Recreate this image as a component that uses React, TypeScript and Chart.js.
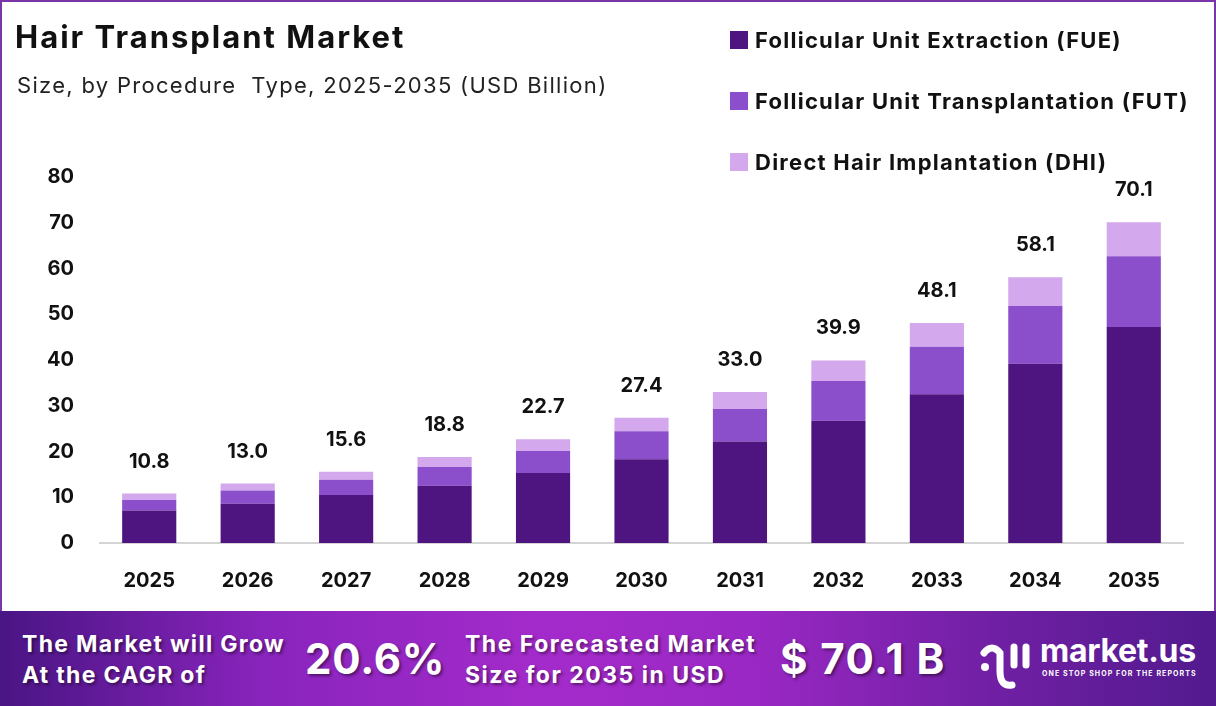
import React, { useEffect, useRef } from "react";
import { Chart, registerables } from "chart.js";

Chart.register(...registerables);

const years = ["2025", "2026", "2027", "2028", "2029", "2030", "2031", "2032", "2033", "2034", "2035"];
const fue = [7.1, 8.6, 10.5, 12.5, 15.3, 18.3, 22.2, 26.7, 32.5, 39.2, 47.2];
const fut = [2.3, 2.9, 3.3, 4.1, 4.8, 6.1, 7.1, 8.7, 10.4, 12.6, 15.5];
const dhi = [1.4, 1.5, 1.8, 2.2, 2.6, 3.0, 3.7, 4.5, 5.2, 6.3, 7.4];
const totals = ["10.8", "13.0", "15.6", "18.8", "22.7", "27.4", "33.0", "39.9", "48.1", "58.1", "70.1"];
const seriesNames = ["Follicular Unit Extraction (FUE)", "Follicular Unit Transplantation (FUT)", "Direct Hair Implantation (DHI)"];
const seriesColors = ["#4E1580", "#8B4FCC", "#D3A8EC"];
const yTicks = [0, 10, 20, 30, 40, 50, 60, 70, 80];

const FONT = "Inter, 'DejaVu Sans', sans-serif";

const totalsPlugin = {
  id: "totals",
  afterDatasetsDraw(chart: any) {
    const ctx = chart.ctx;
    const meta = chart.getDatasetMeta(chart.data.datasets.length - 1);
    ctx.save();
    ctx.font = `700 20px ${FONT}`;
    ctx.fillStyle = "#111";
    ctx.textAlign = "center";
    ctx.textBaseline = "middle";
    meta.data.forEach((bar: any, i: number) => {
      ctx.fillText(totals[i], bar.x, bar.y - 32);
    });
    ctx.restore();
  },
};

function ChartCanvas() {
  const ref = useRef<HTMLCanvasElement | null>(null);
  useEffect(() => {
    if (!ref.current) return;
    const chart = new Chart(ref.current, {
      type: "bar",
      data: {
        labels: years,
        datasets: [fue, fut, dhi].map((d, i) => ({
          label: seriesNames[i],
          data: d,
          backgroundColor: seriesColors[i],
          borderWidth: 0,
          barPercentage: 0.55,
          categoryPercentage: 1,
        })),
      },
      options: {
        responsive: false,
        animation: false,
        maintainAspectRatio: false,
        layout: { padding: { top: 177, right: 33, left: 0, bottom: 0 } },
        plugins: { legend: { display: false }, tooltip: { enabled: false }, title: { display: false } },
        scales: {
          x: {
            stacked: true,
            grid: { display: false, drawTicks: false },
            border: { display: true, color: "#d4d4d4", width: 2 },
            ticks: { color: "#111", font: { family: FONT, size: 20, weight: "bold" as any }, padding: 26 },
            afterFit: (s: any) => { s.height = 67; },
          },
          y: {
            stacked: true,
            min: 0,
            max: 80,
            afterBuildTicks: (s: any) => { s.ticks = yTicks.map((v) => ({ value: v })); },
            grid: { display: false, drawTicks: false },
            border: { display: false },
            ticks: { color: "#111", font: { family: FONT, size: 20, weight: "bold" as any }, padding: 26 },
            afterFit: (s: any) => { s.width = 100; },
          },
        },
      },
      plugins: [totalsPlugin],
    });
    return () => chart.destroy();
  }, []);
  return <canvas ref={ref} width={1216} height={610} style={{ position: "absolute", left: 0, top: 0, width: 1216, height: 610 }} />;
}

const shadow = "2px 2px 3px rgba(0,0,0,0.45)";

export default function App() {
  return (
    <div style={{ position: "fixed", left: 0, top: 0, width: 1216, height: 706, background: "#fff", fontFamily: FONT, overflow: "hidden" }}>
      <div style={{ position: "absolute", left: 0, top: 0, width: 1216, height: 612, boxSizing: "border-box", border: "2px solid #7A35A6", borderBottom: "none" }} />
      <ChartCanvas />
      <div style={{ position: "absolute", left: 15, top: 18, fontSize: 31, fontWeight: 700, color: "#111", letterSpacing: 2, whiteSpace: "nowrap" }}>Hair Transplant Market</div>
      <div style={{ position: "absolute", left: 17, top: 72, fontSize: 22, fontWeight: 400, color: "#222", letterSpacing: 1.3, whiteSpace: "nowrap" }}>Size, by Procedure&nbsp; Type, 2025-2035 (USD Billion)</div>
      {seriesNames.map((n, i) => (
        <div key={n} style={{ position: "absolute", left: 730, top: 26 + i * 61, display: "flex", alignItems: "center", height: 28 }}>
          <div style={{ width: 18, height: 18, background: seriesColors[i], marginRight: 7 }} />
          <div style={{ fontSize: 22, fontWeight: 700, color: "#111", whiteSpace: "nowrap", letterSpacing: 1.25 }}>{n}</div>
        </div>
      ))}
      <div style={{ position: "absolute", left: 0, top: 611, width: 1216, height: 95, background: "linear-gradient(90deg, #4a1584 0%, #8a24bd 22%, #a42bcb 45%, #9a28c4 62%, #7320a6 80%, #521a8e 100%)" }}>
        <div style={{ position: "absolute", left: 22, top: 18, color: "#fff", fontWeight: 700, fontSize: 23, lineHeight: "31px", textShadow: shadow, whiteSpace: "nowrap", letterSpacing: 1.3 }}>
          The Market will Grow<br />At the CAGR of
        </div>
        <div style={{ position: "absolute", left: 305, top: 22, color: "#fff", fontWeight: 700, fontSize: 42, lineHeight: "52px", textShadow: shadow, letterSpacing: 0.8 }}>20.6%</div>
        <div style={{ position: "absolute", left: 465, top: 18, color: "#fff", fontWeight: 700, fontSize: 23, lineHeight: "31px", textShadow: shadow, whiteSpace: "nowrap", letterSpacing: 1.5 }}>
          The Forecasted Market<br />Size for 2035 in USD
        </div>
        <div style={{ position: "absolute", left: 780, top: 22, color: "#fff", fontWeight: 700, fontSize: 42, lineHeight: "52px", textShadow: shadow, whiteSpace: "nowrap", letterSpacing: 1.4 }}>$ 70.1 B</div>
        <svg style={{ position: "absolute", left: 978, top: 30 }} width="56" height="50" viewBox="0 0 56 50">
          <g fill="none" stroke="#fff" strokeWidth="7" strokeLinecap="round">
            <path d="M6 12 Q14 2 22 12 L22 30 Q22 46 34 44" />
            <path d="M36 6 L36 24" />
            <path d="M48 6 L48 24" />
          </g>
          <circle cx="7" cy="26" r="4" fill="#fff" />
        </svg>
        <div style={{ position: "absolute", left: 1040, top: 22, color: "#fff", fontWeight: 700, fontSize: 32, lineHeight: "36px", letterSpacing: -0.3 }}>market.us</div>
        <div style={{ position: "absolute", left: 1042, top: 58, color: "#fff", fontWeight: 700, fontSize: 7, letterSpacing: 1.1, whiteSpace: "nowrap" }}>ONE STOP SHOP FOR THE REPORTS</div>
      </div>
    </div>
  );
}
